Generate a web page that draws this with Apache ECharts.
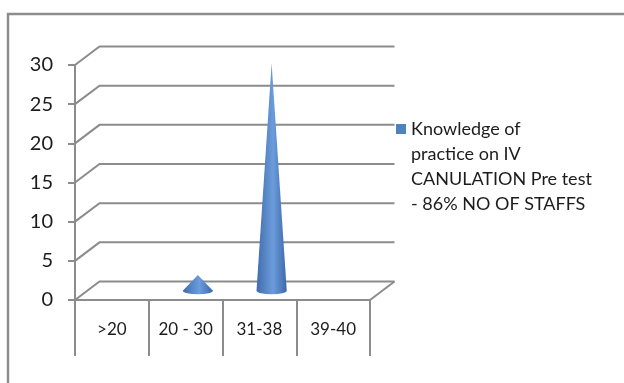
<!DOCTYPE html>
<html>
<head>
<meta charset="utf-8">
<style>
  html, body { margin: 0; padding: 0; background: #fff; }
  #chart { width: 624px; height: 383px; }
</style>
<script src="https://cdn.jsdelivr.net/npm/echarts@6/dist/echarts.min.js"></script>
</head>
<body>
<div id="chart"></div>
<script>
// Age groups and staff counts
const categories = ['>20', '20 - 30', '31-38', '39-40'];
const staffCounts = [0, 2, 29, 0];
const yTicks = [0, 5, 10, 15, 20, 25, 30];
const seriesName = 'Knowledge of\npractice on IV\nCANULATION Pre test\n- 86% NO OF STAFFS';

// Pseudo-3D depth offset of the back wall relative to the front axes
const DX = 24.5;
const DY = -18.5;
const FONT = 'Lato';
const LINE = '#8c8c8c';
const TEXT = '#1c1c1c';

// Legend swatch: a 10x10 square pinned to the top of a tall icon box,
// so it lines up with the first line of the wrapped legend text
const LEGEND_ICON = 'path://M0,0h10v10h-10z M9.95,84.95h0.05v0.05h-0.05z';

const chart = echarts.init(document.getElementById('chart'), null, { renderer: 'canvas' });

// Back-wall gridlines with their diagonal returns, plus the floor's right edge
function renderWall(params, api) {
  const cs = params.coordSys;
  const v = api.value(1);
  const y = api.coord([0, v])[1];
  const x0 = cs.x, x1 = cs.x + cs.width;
  const children = [{
    type: 'polyline',
    shape: { points: [[x0, y], [x0 + DX, y + DY], [x1 + DX, y + DY]] },
    style: { stroke: LINE, lineWidth: 2, fill: null }
  }];
  if (v === 0) {
    children.push({
      type: 'line',
      shape: { x1: x1, y1: y, x2: x1 + DX, y2: y + DY },
      style: { stroke: LINE, lineWidth: 2 }
    });
  }
  return { type: 'group', children: children };
}

// Cone standing at mid-depth of its category slot
function renderCone(params, api) {
  const val = api.value(1);
  if (!val) return null;
  const idx = api.value(0);
  const base = api.coord([idx, 0]);
  const tip = api.coord([idx, val]);
  const r = api.size([1, 0])[0] * 0.205;
  const cx = base[0] + DX / 2;
  const by = base[1] + DY / 2;
  const ty = tip[1] + DY / 2;
  const ry = 3.5;
  return {
    type: 'path',
    shape: {
      pathData: 'M' + (cx - r) + ',' + by + ' L' + cx + ',' + ty + ' L' + (cx + r) + ',' + by +
        ' A' + r + ',' + ry + ' 0 0 1 ' + (cx - r) + ',' + by + ' Z'
    },
    style: {
      fill: new echarts.graphic.LinearGradient(0, 0, 1, 0, [
        { offset: 0, color: '#3f6cad' },
        { offset: 0.55, color: '#6c9cdb' },
        { offset: 1, color: '#3b68aa' }
      ])
    }
  };
}

chart.setOption({
  animation: false,
  backgroundColor: '#fff',
  graphic: [{
    type: 'rect',
    shape: { x: 8, y: 14, width: 700, height: 500 },
    style: { fill: null, stroke: '#8c8c8c', lineWidth: 2.5 },
    silent: true,
    z: -10
  }],
  grid: { left: 75, top: 65, width: 295, height: 235 },
  legend: {
    data: [seriesName],
    left: 396,
    top: 116.5,
    padding: 0,
    icon: LEGEND_ICON,
    itemWidth: 10,
    itemHeight: 85,
    itemGap: 0,
    textStyle: {
      fontFamily: FONT,
      fontSize: 18,
      lineHeight: 25,
      color: TEXT
    }
  },
  xAxis: {
    type: 'category',
    data: categories,
    axisLine: { lineStyle: { color: LINE, width: 2 } },
    axisTick: { show: true, interval: 0, length: 56, lineStyle: { color: LINE, width: 2 } },
    axisLabel: { margin: 21, fontFamily: FONT, fontSize: 17, color: TEXT },
    splitLine: { show: false }
  },
  yAxis: {
    type: 'value',
    min: 0,
    max: 30,
    interval: 5,
    axisLine: { show: true, lineStyle: { color: LINE, width: 2 } },
    axisTick: { show: true, length: 7, lineStyle: { color: LINE, width: 2 } },
    axisLabel: { margin: 22, fontFamily: FONT, fontSize: 20, color: TEXT },
    splitLine: { show: false }
  },
  series: [{
    type: 'custom',
    name: 'wall',
    renderItem: renderWall,
    data: yTicks.map(v => [0, v]),
    encode: { x: 0, y: 1 },
    silent: true,
    z: 1
  }, {
    type: 'custom',
    name: seriesName,
    renderItem: renderCone,
    itemStyle: { color: '#4f81bd' },
    data: staffCounts.map((v, i) => [i, v]),
    encode: { x: 0, y: 1 },
    z: 3
  }]
});
</script>
</body>
</html>
